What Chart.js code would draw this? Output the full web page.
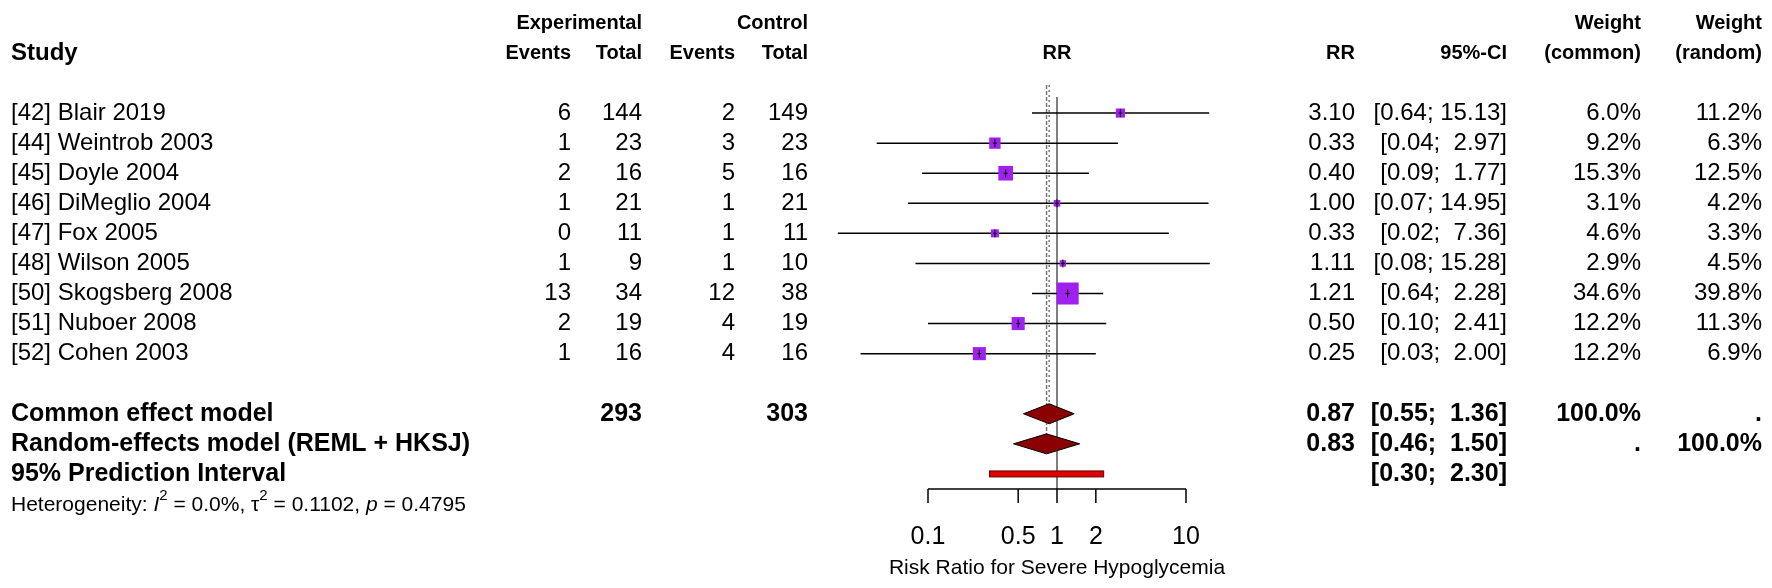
<!DOCTYPE html>
<html>
<head>
<meta charset="utf-8">
<script src="https://cdn.jsdelivr.net/npm/chart.js@4"></script>
<style>
  html, body { margin: 0; padding: 0; background: #fff; }
  #wrap { width: 1772px; height: 588px; }
</style>
</head>
<body>
<div id="wrap"><canvas id="forest" width="1772" height="588"></canvas></div>
<script>
// data
const studies = ["[42] Blair 2019", "[44] Weintrob 2003", "[45] Doyle 2004", "[46] DiMeglio 2004",
  "[47] Fox 2005", "[48] Wilson 2005", "[50] Skogsberg 2008", "[51] Nuboer 2008", "[52] Cohen 2003"];
const expEvents = [6, 1, 2, 1, 0, 1, 13, 2, 1];
const expTotal = [144, 23, 16, 21, 11, 9, 34, 19, 16];
const ctlEvents = [2, 3, 5, 1, 1, 1, 12, 4, 4];
const ctlTotal = [149, 23, 16, 21, 11, 10, 38, 19, 16];
const rr = [3.10, 0.33, 0.40, 1.00, 0.33, 1.11, 1.21, 0.50, 0.25];
const lower = [0.64, 0.04, 0.09, 0.07, 0.02, 0.08, 0.64, 0.10, 0.03];
const upper = [15.13, 2.97, 1.77, 14.95, 7.36, 15.28, 2.28, 2.41, 2.00];
const wCommon = [6.0, 9.2, 15.3, 3.1, 4.6, 2.9, 34.6, 12.2, 12.2];
const wRandom = [11.2, 6.3, 12.5, 4.2, 3.3, 4.5, 39.8, 11.3, 6.9];
const commonEst = [0.87, 0.55, 1.36];
const randomEst = [0.83, 0.46, 1.50];
const predInt = [0.30, 2.30];
const totals = [293, 303];
const axisTicks = [0.1, 0.5, 1, 2, 10];

const fmt = v => v.toFixed(2);
const ciText = (l, u) => "[" + fmt(l) + "; " + (u >= 10 ? "" : " ") + fmt(u) + "]";

const rows = studies.map((s, i) => ({ x: rr[i], y: i }));
const FONT = "'Liberation Sans', Arial";

const forestPlugin = {
  id: "forest",
  afterDatasetsDraw(chart) {
    const c = chart.ctx;
    const xs = chart.scales.x, ys = chart.scales.y;
    const px = v => xs.getPixelForValue(v);
    const py = v => ys.getPixelForValue(v);
    c.save();

    // reference lines
    c.strokeStyle = "#555"; c.lineWidth = 1.5;
    c.beginPath(); c.moveTo(px(1), 97); c.lineTo(px(1), py(12.5)); c.stroke();
    c.setLineDash([2, 3]); c.strokeStyle = "#777";
    c.beginPath(); c.moveTo(px(commonEst[0]), 85); c.lineTo(px(commonEst[0]), py(10)); c.stroke();
    c.setLineDash([4, 2]);
    c.beginPath(); c.moveTo(px(randomEst[0]), 85); c.lineTo(px(randomEst[0]), py(11)); c.stroke();
    c.setLineDash([]);

    // CIs and squares
    studies.forEach((s, i) => {
      const y = py(i);
      c.strokeStyle = "#000"; c.lineWidth = 1.5;
      c.beginPath(); c.moveTo(px(lower[i]), y); c.lineTo(px(upper[i]), y); c.stroke();
      const side = 22 * Math.sqrt(wCommon[i] / 34.6);
      c.fillStyle = "#a020f0";
      c.fillRect(px(rr[i]) - side / 2, y - side / 2, side, side);
      c.strokeStyle = "#000"; c.lineWidth = 1;
      c.beginPath(); c.moveTo(px(rr[i]), y - 4); c.lineTo(px(rr[i]), y + 4); c.stroke();
      c.beginPath(); c.moveTo(px(rr[i]) - 2, y); c.lineTo(px(rr[i]) + 2, y); c.stroke();
    });

    // diamonds
    [[commonEst, 10], [randomEst, 11]].forEach(([e, r]) => {
      const y = py(r);
      c.beginPath();
      c.moveTo(px(e[1]), y); c.lineTo(px(e[0]), y - 10);
      c.lineTo(px(e[2]), y); c.lineTo(px(e[0]), y + 10); c.closePath();
      c.fillStyle = "#8b0000"; c.fill();
      c.strokeStyle = "#000"; c.lineWidth = 1; c.stroke();
    });
    // prediction interval
    const yp = py(12);
    c.fillStyle = "#e00000";
    c.fillRect(px(predInt[0]), yp - 3, px(predInt[1]) - px(predInt[0]), 6);
    c.strokeStyle = "#600"; c.strokeRect(px(predInt[0]), yp - 3, px(predInt[1]) - px(predInt[0]), 6);

    // x axis
    const ya = py(12.5);
    c.strokeStyle = "#000"; c.lineWidth = 1.5;
    c.beginPath(); c.moveTo(px(0.1), ya); c.lineTo(px(10), ya); c.stroke();
    c.fillStyle = "#000"; c.font = "25px " + FONT; c.textAlign = "center"; c.textBaseline = "middle";
    axisTicks.forEach(t => {
      c.beginPath(); c.moveTo(px(t), ya); c.lineTo(px(t), ya + 14); c.stroke();
      c.fillText(String(t), px(t), 537);
    });
    c.font = "21px " + FONT;
    c.fillText("Risk Ratio for Severe Hypoglycemia", px(1), 568);

    // table text
    const head = "bold 20px " + FONT;
    const bold = "bold 25px " + FONT;
    const norm = "24px " + FONT;
    const txt = (s, x, y, align, f) => { c.font = f || norm; c.textAlign = align; c.fillText(s, x, y); };
    const cols = { ev1: 571, tot1: 642, ev2: 735, tot2: 808, rr: 1355, ci: 1507, wc: 1641, wr: 1762 };
    txt("Experimental", cols.tot1, 23, "right", head);
    txt("Control", cols.tot2, 23, "right", head);
    txt("Weight", cols.wc, 23, "right", head);
    txt("Weight", cols.wr, 23, "right", head);
    txt("Study", 11, 53, "left", "bold 24px " + FONT);
    txt("Events", cols.ev1, 53, "right", head);
    txt("Total", cols.tot1, 53, "right", head);
    txt("Events", cols.ev2, 53, "right", head);
    txt("Total", cols.tot2, 53, "right", head);
    txt("RR", px(1), 53, "center", head);
    txt("RR", cols.rr, 53, "right", head);
    txt("95%-CI", cols.ci, 53, "right", head);
    txt("(common)", cols.wc, 53, "right", head);
    txt("(random)", cols.wr, 53, "right", head);

    studies.forEach((s, i) => {
      const y = py(i);
      txt(s, 11, y, "left");
      txt(String(expEvents[i]), cols.ev1, y, "right");
      txt(String(expTotal[i]), cols.tot1, y, "right");
      txt(String(ctlEvents[i]), cols.ev2, y, "right");
      txt(String(ctlTotal[i]), cols.tot2, y, "right");
      txt(fmt(rr[i]), cols.rr, y, "right");
      txt(ciText(lower[i], upper[i]), cols.ci, y, "right");
      txt(wCommon[i].toFixed(1) + "%", cols.wc, y, "right");
      txt(wRandom[i].toFixed(1) + "%", cols.wr, y, "right");
    });

    let y = py(10);
    txt("Common effect model", 11, y, "left", bold);
    txt(String(totals[0]), cols.tot1, y, "right", bold);
    txt(String(totals[1]), cols.tot2, y, "right", bold);
    txt(fmt(commonEst[0]), cols.rr, y, "right", bold);
    txt(ciText(commonEst[1], commonEst[2]), cols.ci, y, "right", bold);
    txt("100.0%", cols.wc, y, "right", bold);
    txt(".", cols.wr, y, "right", bold);
    y = py(11);
    txt("Random-effects model (REML + HKSJ)", 11, y, "left", bold);
    txt(fmt(randomEst[0]), cols.rr, y, "right", bold);
    txt(ciText(randomEst[1], randomEst[2]), cols.ci, y, "right", bold);
    txt(".", cols.wc, y, "right", bold);
    txt("100.0%", cols.wr, y, "right", bold);
    y = py(12);
    txt("95% Prediction Interval", 11, y, "left", bold);
    txt(ciText(predInt[0], predInt[1]), cols.ci, y, "right", bold);

    // heterogeneity line with super-scripts
    const parts = [
      ["Heterogeneity: ", "21px", 0], ["I", "italic 21px", 0], ["2", "15px", -9],
      [" = 0.0%, \u03c4", "21px", 0], ["2", "15px", -9], [" = 0.1102, ", "21px", 0],
      ["p", "italic 21px", 0], [" = 0.4795", "21px", 0]
    ];
    let hx = 11;
    c.textAlign = "left";
    parts.forEach(([s, f, dy]) => {
      c.font = f + " " + FONT;
      c.fillText(s, hx, 505 + dy);
      hx += c.measureText(s).width;
    });
    c.restore();
  }
};

new Chart(document.getElementById("forest"), {
  type: "scatter",
  data: { datasets: [{ data: rows, pointRadius: 0, showLine: false }] },
  options: {
    responsive: false,
    animation: false,
    layout: { padding: { left: 799, right: 457, top: 83, bottom: 84 } },
    plugins: { legend: { display: false }, tooltip: { enabled: false } },
    scales: {
      x: { type: "logarithmic", min: 0.01, max: 100, display: false },
      y: { type: "linear", min: -1, max: 13, reverse: true, display: false }
    }
  },
  plugins: [forestPlugin]
});
</script>
</body>
</html>
